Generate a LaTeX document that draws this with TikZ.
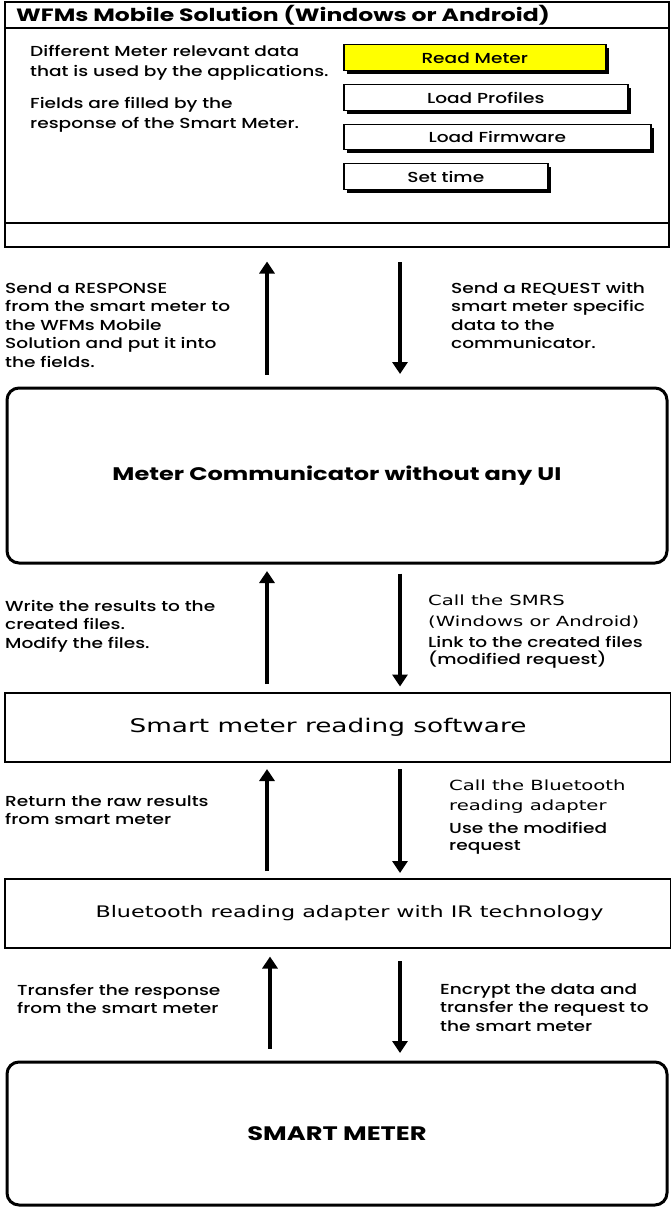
\documentclass[tikz,border=0pt]{standalone}
\usepackage{fontspec}
\setmainfont{Poppins Medium}[FakeStretch=1.28]
\newfontfamily\boldf{Poppins}[FakeStretch=1.32]
\newfontfamily\comic{DejaVu Sans}[FakeStretch=1.4]
\usetikzlibrary{arrows.meta,positioning}
\definecolor{btnyellow}{HTML}{FFFF00}
\tikzset{
  x=1pt,y=-1pt,
  lbl/.style={anchor=base west,align=left,inner sep=0pt,font=\fontsize{14.5}{18.5}\selectfont},
  clbl/.style={anchor=base west,align=left,inner sep=0pt,font=\comic\fontsize{14}{21}\selectfont},
  boxline/.style={draw,line width=2pt},
  rbox/.style={draw,line width=3pt,rounded corners=12pt},
  arr/.style={line width=3.5pt,-{Triangle[width=15pt,length=12pt]}},
  btn/.style={draw,line width=1.5pt,fill=white,anchor=north west,inner sep=0pt,font=\fontsize{14.5}{16}\selectfont},
}
\begin{document}
\begin{tikzpicture}
\useasboundingbox (0,0) rectangle (671,1209);
% window
\draw[boxline] (5,2) rectangle (669,247);
\draw[line width=1.5pt] (5,28) -- (669,28);
\draw[line width=1.5pt] (5,223) -- (669,223);
\node[anchor=base west,inner sep=0pt,font=\boldf\bfseries\fontsize{17.8}{19}\selectfont] (title) at (16,22) {WFMs Mobile Solution (Windows or Android)};
\node[lbl,font=\fontsize{14.5}{20}\selectfont] (info1) at (30,77) {Different Meter relevant data\\that is used by the applications.};
\node[lbl,font=\fontsize{14.5}{20}\selectfont] (info2) at (30,129) {Fields are filled by the\\response of the Smart Meter.};
% buttons
\fill (347,48) rectangle (609,74);
\node[btn,fill=btnyellow,minimum width=262pt,minimum height=26pt] (b1) at (343,44) {Read Meter};
\fill (347,88) rectangle (631,114);
\node[btn,minimum width=284pt,minimum height=26pt] (b2) at (343,84) {Load Profiles};
\fill (347,128) rectangle (654,153);
\node[btn,minimum width=307pt,minimum height=25pt] (b3) at (343,124) {Load Firmware};
\fill (347,167) rectangle (551,193);
\node[btn,minimum width=204pt,minimum height=26pt] (b4) at (343,163) {Set time};
\coordinate (wfm) at (337,247);
% boxes
\node[rbox,minimum width=660pt,minimum height=175pt,font=\boldf\bfseries\fontsize{18.2}{21}\selectfont] (comm) at (337,475.5) {Meter Communicator without any UI};
\node[boxline,minimum width=666pt,minimum height=69pt,font=\comic\fontsize{18.8}{20}\selectfont] (smrs) at (338,727.5) {Smart meter reading software\hspace*{20pt}};
\node[boxline,minimum width=666pt,minimum height=69pt,font=\comic\fontsize{15.9}{18}\selectfont] (bt) at (338,913.5) {\hspace*{23pt}Bluetooth reading adapter with IR technology};
\node[rbox,minimum width=660pt,minimum height=143pt,font=\boldf\bfseries\fontsize{19.5}{21}\selectfont] (sm) at (337,1133.5) {SMART METER};
% x positions
\coordinate (ux) at (267,0);
\coordinate (dx) at (400,0);
\coordinate (ux2) at (270,0);
% arrows level 1
\draw[arr] (comm.north -| ux) ++(0,-12) -- ++(0,-113);
\draw[arr] (wfm -| dx) ++(0,15) -- ++(0,112);
% level 2
\draw[arr] (smrs.north -| ux) ++(0,-8) -- ++(0,-113);
\draw[arr] (comm.south -| dx) ++(0,9) -- ++(0,113);
% level 3
\draw[arr] (bt.north -| ux) ++(0,-7) -- ++(0,-102);
\draw[arr] (smrs.south -| dx) ++(0,6) -- ++(0,104);
% level 4
\draw[arr] (sm.north -| ux2) ++(0,-12) -- ++(0,-92);
\draw[arr] (bt.south -| dx) ++(0,12) -- ++(0,92);
% labels (anchored at the baseline of their last line)
\node[lbl] (l1) at (5,367) {Send a RESPONSE\\from the smart meter to\\the WFMs Mobile\\Solution and put it into\\the fields.};
\node[lbl] (r1) at (451,348.5) {Send a REQUEST with\\smart meter specific\\data to the\\communicator.};
\node[lbl] (l2) at (5,648) {Write the results to the\\created files.\\Modify the files.};
\node[clbl] (r2a) at (428,626) {Call the SMRS\\(Windows or Android)};
\node[lbl,font=\fontsize{14.5}{17.5}\selectfont] (r2b) at (428,664.5) {Link to the created files\\(modified request)};
\node[lbl] (l3) at (5,824.5) {Return the raw results\\from smart meter};
\node[clbl,font=\comic\fontsize{14}{20}\selectfont] (r3a) at (449,810) {Call the Bluetooth\\reading adapter};
\node[lbl,font=\fontsize{14.5}{17}\selectfont] (r3b) at (449,850) {Use the modified\\request};
\node[lbl] (l4) at (17,1013.5) {Transfer the response\\from the smart meter};
\node[lbl] (r4) at (440,1031) {Encrypt the data and\\transfer the request to\\the smart meter};
\end{tikzpicture}
\end{document}
